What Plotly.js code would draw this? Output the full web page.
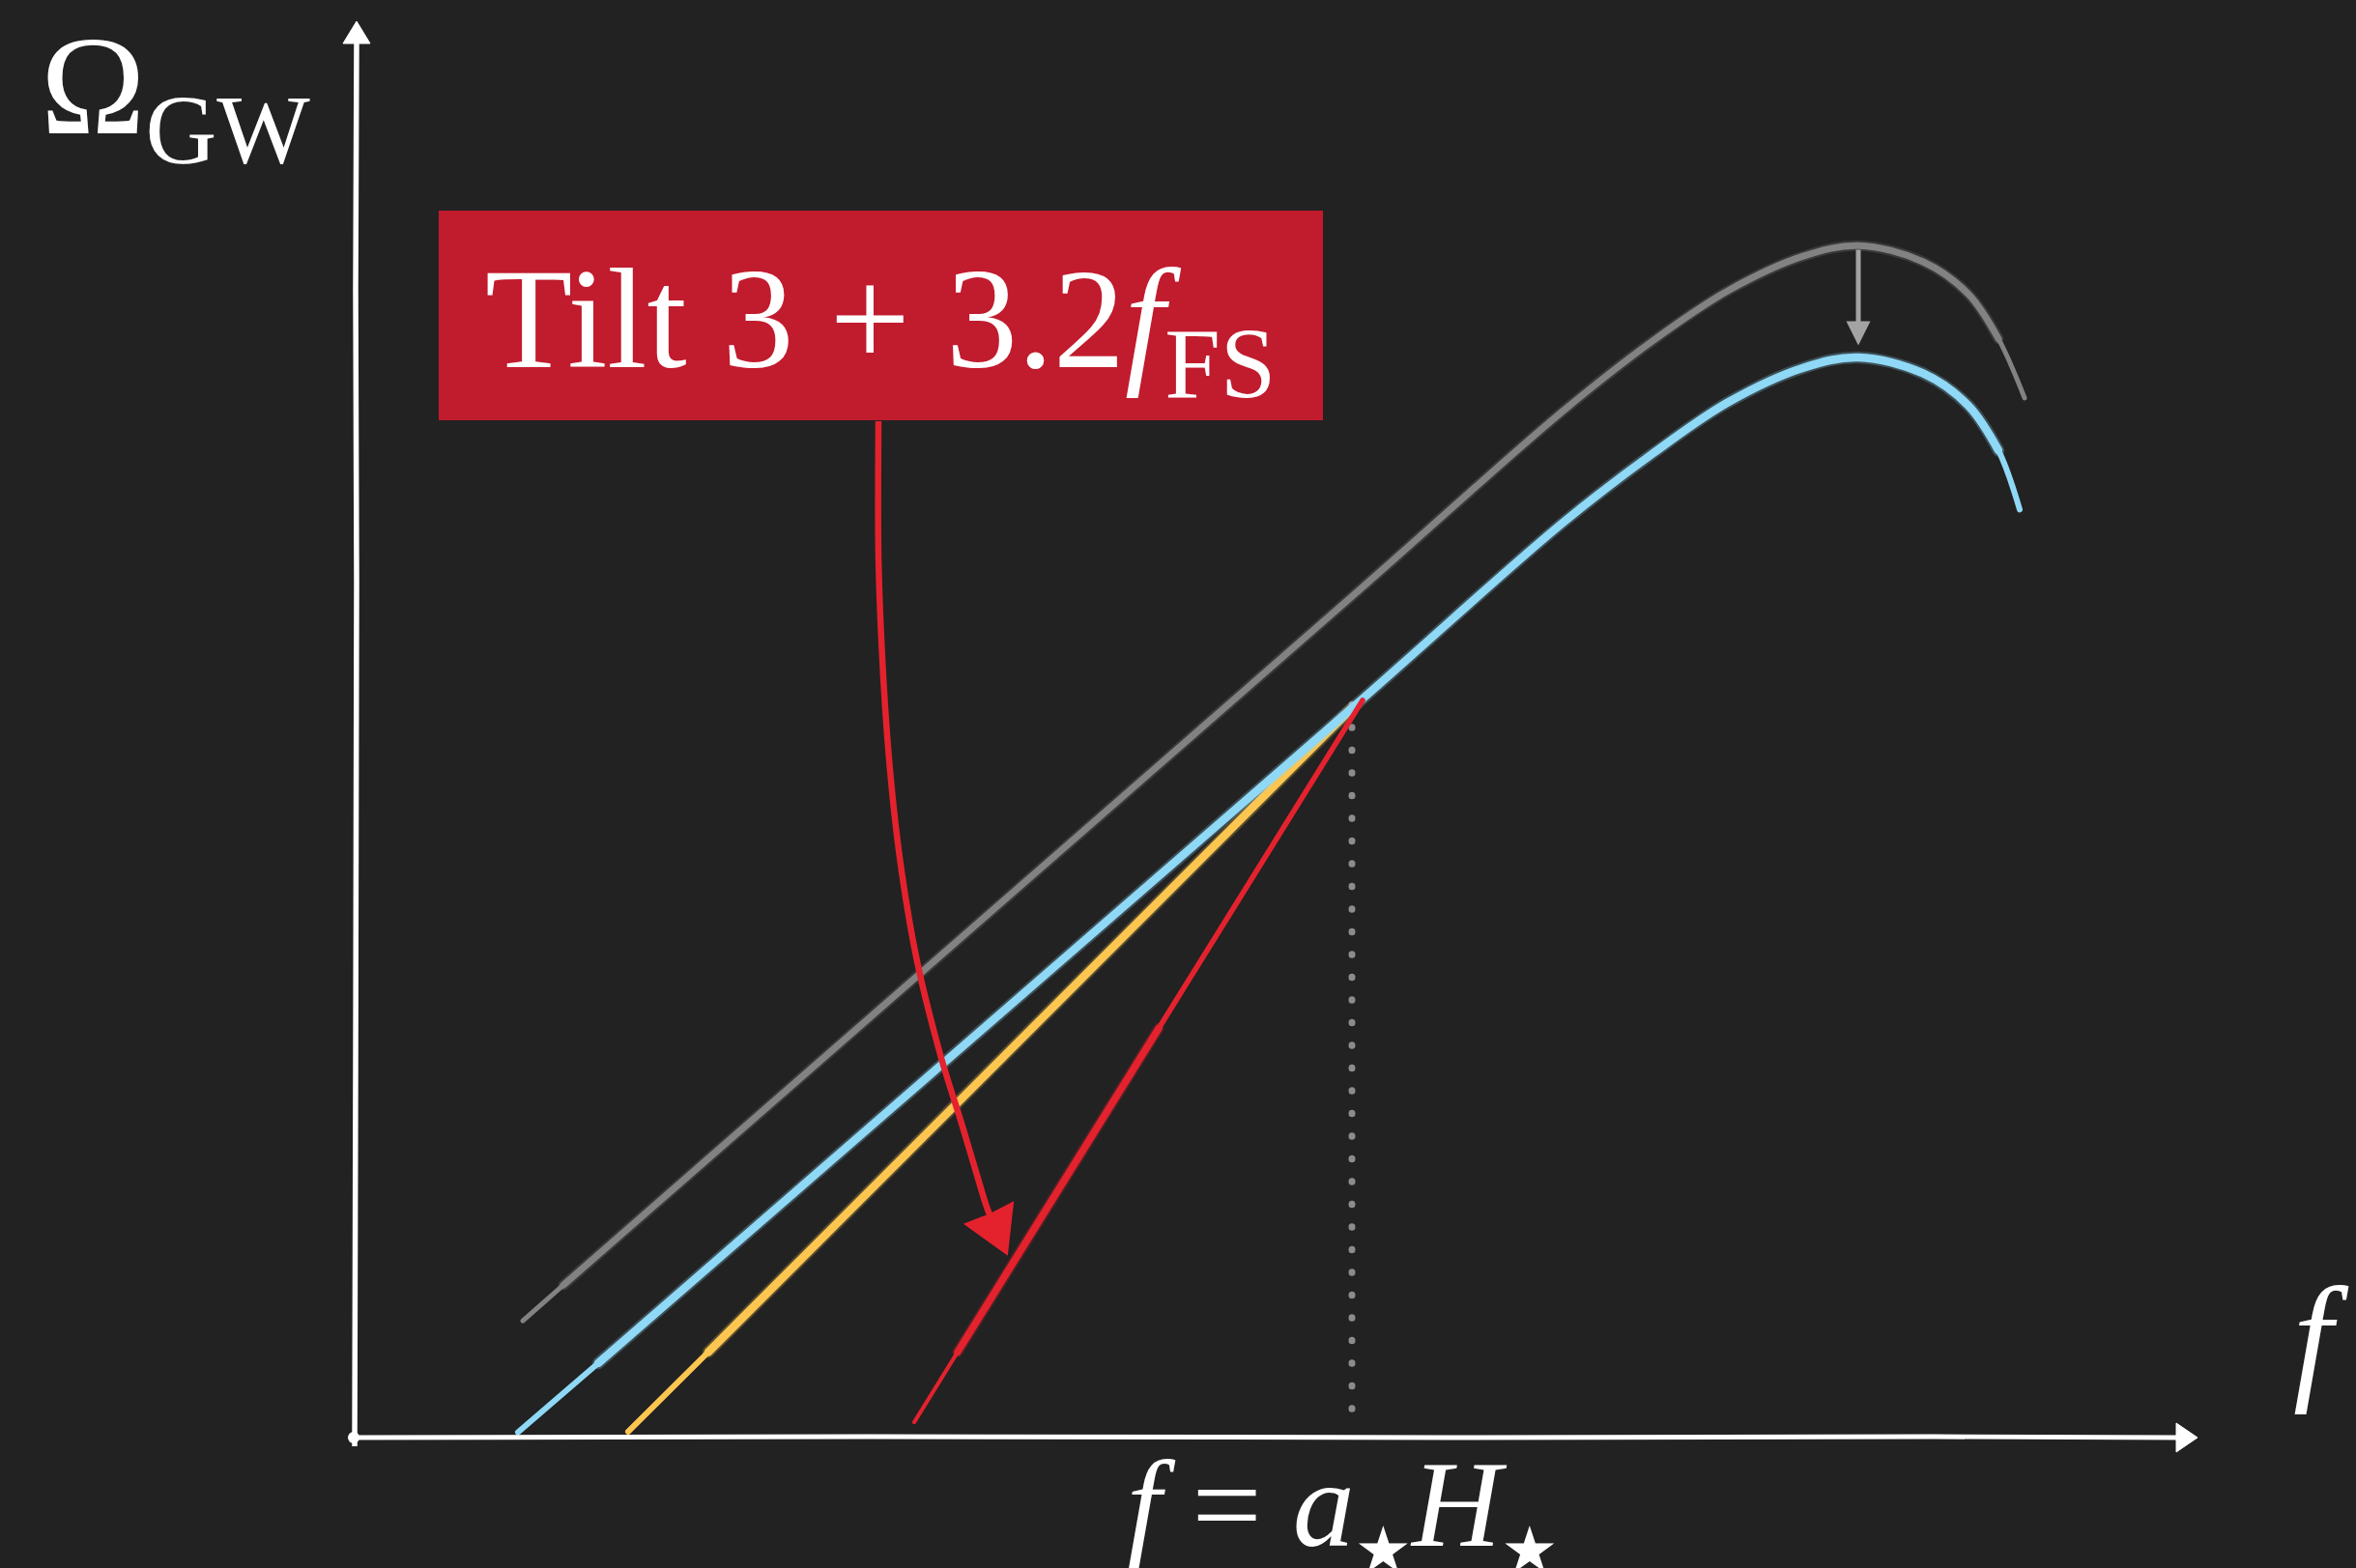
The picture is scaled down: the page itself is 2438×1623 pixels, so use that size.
<!DOCTYPE html>
<html>
<head>
<meta charset="utf-8">
<script src="https://cdn.plot.ly/plotly-3.0.1.min.js"></script>
<style>
  html, body { margin: 0; padding: 0; background: #222222; overflow: hidden; }
  #chart { width: 2438px; height: 1623px; }
  .scatterlayer .js-line { stroke-linecap: round; stroke-linejoin: round; }
</style>
</head>
<body>
<div id="chart"></div>
<script>
// Sketch of the gravitational-wave spectrum Omega_GW(f).
// x = log10(f / a*H*), y = log10(Omega_GW) in arbitrary units.

// original spectrum (f^3 infrared tail, peak, UV fall-off)
const grayX = [-2.145, -2.04, 0, 0.545, 0.7775, 0.9725, 1.1675, 1.31, 1.4775, 1.595, 1.6725, 1.74];
const grayY = [-5.49, -5.17, 1.0, 2.66, 3.29, 3.74, 4.05, 4.145, 4.0, 3.71, 3.31, 2.78];

// suppressed spectrum
const blueX = [-2.1575, -1.95, 0, 0.545, 0.7775, 0.9725, 1.1675, 1.31, 1.4775, 1.595, 1.6725, 1.7275];
const blueY = [-6.49, -5.87, 0, 1.66, 2.28, 2.74, 3.05, 3.143, 3.0, 2.71, 2.31, 1.78];

// steeper tail below f = a*H*
const yellowX = [-1.8725, -1.665, 0];
const yellowY = [-6.485, -5.77, 0];

// tilt 3 + 3.2 f_FS
const redX = [-1.1325, -1.02, -0.50, 0.0275];
const redY = [-6.40, -5.77, -2.87, 0.07];

// f = a*H* reference line
const fStarX = [0, 0];
const fStarY = [-6.28, 0.17];

// gray arrow: from original peak down to suppressed peak
const peakX = 1.31;
const peakFrom = 4.12;
const peakTo = 3.25;

const W = 2438, H = 1623;
const X_RANGE = [-3.4975, 2.5975];
const Y_RANGE = [-7.706, 6.346];

const COLORS = {
  bg: '#222222',
  gray: '#828282',
  blue: '#8fd8f6',
  yellow: '#fcc650',
  red: '#e4222e',
  box: '#c11b2e',
  axis: '#ffffff',
  dots: '#8c8c8c',
  drop: '#a3a3a3'
};

function stroke(x, y, color, width, opacity) {
  return {
    type: 'scatter', mode: 'lines', x: x, y: y,
    line: { color: color, width: width, shape: 'spline', smoothing: 1 },
    opacity: opacity === undefined ? 1 : opacity,
    hoverinfo: 'skip'
  };
}

// brush-like strokes: soft fringe, full-length line, thicker body away from the ends
function brush(x, y, color, full, body, lo, hi) {
  const bx = x.slice(lo, hi), by = y.slice(lo, hi);
  return [
    stroke(bx, by, color, body + 4, 0.25),
    stroke(x, y, color, full, 1),
    stroke(bx, by, color, body, 1)
  ];
}

const traces = [].concat(
  [{
    type: 'scatter', mode: 'lines', x: fStarX, y: fStarY,
    line: { color: COLORS.dots, width: 7, dash: '0.5px,23px' },
    hoverinfo: 'skip'
  }],
  brush(grayX, grayY, COLORS.gray, 5, 7, 1, grayX.length - 1),
  brush(yellowX, yellowY, COLORS.yellow, 6, 8.5, 1, yellowX.length),
  brush(blueX, blueY, COLORS.blue, 6, 8.5, 1, blueX.length - 1),
  [stroke(redX, redY, COLORS.red, 4, 1),
   stroke(redX.slice(1), redY.slice(1), COLORS.red, 5.5, 1),
   stroke(redX.slice(1, 3), redY.slice(1, 3), COLORS.red, 11, 0.25),
   stroke(redX.slice(1, 3), redY.slice(1, 3), COLORS.red, 7.5, 1)]
);

// pixel -> paper helpers for the decorative frame
const px = v => v / W;
const py = v => 1 - v / H;
const pt = (x, y) => px(x) + ',' + py(y);

// curved pointer from the label box (Catmull-Rom through guide points, in pixels)
function curvePath(pts) {
  let d = 'M' + pt(pts[0][0], pts[0][1]);
  for (let i = 0; i < pts.length - 1; i++) {
    const p0 = pts[Math.max(i - 1, 0)], p1 = pts[i], p2 = pts[i + 1], p3 = pts[Math.min(i + 2, pts.length - 1)];
    const c1 = [p1[0] + (p2[0] - p0[0]) / 6, p1[1] + (p2[1] - p0[1]) / 6];
    const c2 = [p2[0] - (p3[0] - p1[0]) / 6, p2[1] - (p3[1] - p1[1]) / 6];
    d += ' C' + pt(c1[0], c1[1]) + ' ' + pt(c2[0], c2[1]) + ' ' + pt(p2[0], p2[1]);
  }
  return d;
}
const pointerGuide = [[909, 436], [909, 575], [914, 700], [922, 808], [933, 902], [949, 995], [972, 1088], [996, 1166], [1018, 1240], [1026, 1262]];

const shapes = [
  // label box
  { type: 'rect', xref: 'paper', yref: 'paper', x0: px(454), x1: px(1369), y0: py(435), y1: py(218),
    fillcolor: COLORS.box, line: { width: 0 }, layer: 'above' },
  // vertical axis
  { type: 'path', xref: 'paper', yref: 'paper',
    path: 'M' + pt(367, 1497) + ' L' + pt(368, 1100) + ' L' + pt(369, 600) + ' L' + pt(368, 300) + ' L' + pt(369, 40),
    line: { color: COLORS.axis, width: 5.5 } },
  { type: 'path', xref: 'paper', yref: 'paper',
    path: 'M' + pt(369, 22) + ' L' + pt(383, 45) + ' L' + pt(355, 45) + ' Z',
    fillcolor: COLORS.axis, line: { color: COLORS.axis, width: 1 } },
  // horizontal axis
  { type: 'path', xref: 'paper', yref: 'paper',
    path: 'M' + pt(362, 1488) + ' L' + pt(900, 1487) + ' L' + pt(1500, 1488) + ' L' + pt(2000, 1487) + ' L' + pt(2256, 1488),
    line: { color: COLORS.axis, width: 5 } },
  { type: 'path', xref: 'paper', yref: 'paper',
    path: 'M' + pt(2274, 1488) + ' L' + pt(2252, 1473) + ' L' + pt(2252, 1503) + ' Z',
    fillcolor: COLORS.axis, line: { color: COLORS.axis, width: 1 } },
  { type: 'circle', xref: 'paper', yref: 'paper', x0: px(360), x1: px(372), y0: py(1494), y1: py(1482),
    fillcolor: COLORS.axis, line: { width: 0 } },
  // red pointer
  { type: 'path', xref: 'paper', yref: 'paper', path: curvePath(pointerGuide),
    line: { color: COLORS.red, width: 6.5 } },
  { type: 'path', xref: 'paper', yref: 'paper',
    path: 'M' + pt(1042, 1298) + ' L' + pt(999, 1267) + ' L' + pt(1025, 1257) + ' L' + pt(1048, 1245) + ' Z',
    fillcolor: COLORS.red, line: { color: COLORS.red, width: 2 } }
];

const serif = '"Liberation Serif", "DejaVu Serif", serif';
const star = '<span style="font-family:\'DejaVu Sans\';font-size:66px">★</span>';

const annotations = [
  { xref: 'paper', yref: 'paper', x: px(40), y: py(6), xanchor: 'left', yanchor: 'top',
    text: 'Ω<sub>GW</sub>', showarrow: false, font: { family: serif, size: 146, color: '#ffffff' } },
  { xref: 'paper', yref: 'paper', x: px(2371), y: py(1301), xanchor: 'left', yanchor: 'top',
    text: '<i>f</i>', showarrow: false, font: { family: serif, size: 146, color: '#ffffff' } },
  { xref: 'paper', yref: 'paper', x: px(1389), y: py(1484), xanchor: 'center', yanchor: 'top',
    text: '<i>f</i>\u00a0= <i>a</i><sub>' + star + '</sub><i>H</i><sub>' + star + '</sub>', showarrow: false,
    font: { family: serif, size: 128, color: '#ffffff' } },
  { xref: 'paper', yref: 'paper', x: px(911), y: py(340), xanchor: 'center', yanchor: 'middle',
    text: 'Tilt 3 + 3.2<i>f</i><sub>FS</sub>', showarrow: false,
    font: { family: serif, size: 148, color: '#ffffff' } },
  // suppression arrow at the peak
  { xref: 'x', yref: 'y', axref: 'x', ayref: 'y', x: peakX, y: peakTo, ax: peakX, ay: peakFrom,
    text: '', showarrow: true, arrowhead: 2, arrowsize: 1, arrowwidth: 5, arrowcolor: COLORS.drop }
];

const layout = {
  width: W, height: H, autosize: false,
  margin: { l: 0, r: 0, t: 0, b: 0, pad: 0 },
  paper_bgcolor: COLORS.bg, plot_bgcolor: COLORS.bg,
  showlegend: false,
  xaxis: { range: X_RANGE, visible: false, fixedrange: true },
  yaxis: { range: Y_RANGE, visible: false, fixedrange: true },
  shapes: shapes,
  annotations: annotations
};

Plotly.newPlot('chart', traces, layout, { staticPlot: true, displayModeBar: false });
</script>
</body>
</html>
